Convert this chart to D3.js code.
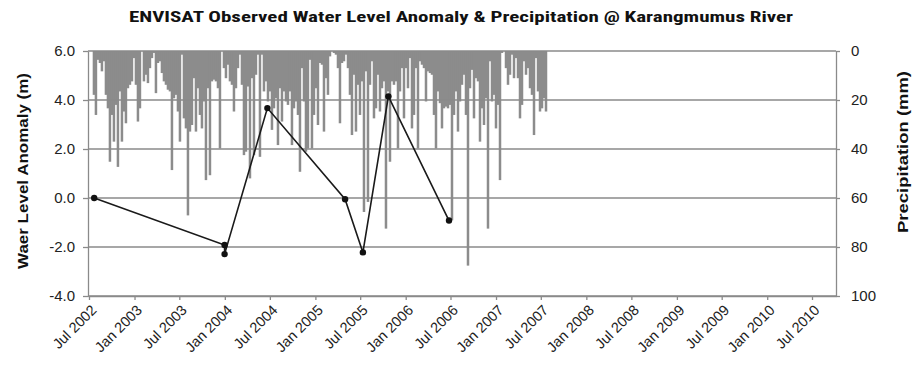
<!DOCTYPE html>
<html>
<head>
<meta charset="utf-8">
<script src="https://cdn.jsdelivr.net/npm/d3@7/dist/d3.min.js"></script>
<style>
  html, body { margin: 0; padding: 0; background: #fff; }
  svg { display: block; }
  text { font-family: "Liberation Sans", Roboto, sans-serif; fill: #222; }
</style>
</head>
<body>
<svg id="chart" width="916" height="367"></svg>
<script>
// ---- data ----
const titleText = "ENVISAT  Observed Water Level Anomaly &  Precipitation @ Karangmumus River";
const leftAxisTitle = "Waer Level Anomaly (m)";
const rightAxisTitle = "Precipitation (mm)";

const xTickLabels = ["Jul 2002", "Jan 2003", "Jul 2003", "Jan 2004", "Jul 2004", "Jan 2005",
  "Jul 2005", "Jan 2006", "Jul 2006", "Jan 2007", "Jul 2007", "Jan 2008", "Jul 2008",
  "Jan 2009", "Jul 2009", "Jan 2010", "Jul 2010"];
const levelTicks = [-4, -2, 0, 2, 4, 6];
const precipTicks = [0, 20, 40, 60, 80, 100];

// ENVISAT altimetry water level anomaly (m)
const levelDates = ["2002-07-22", "2003-12-31", "2003-12-31", "2004-06-21",
  "2005-05-01", "2005-07-12", "2005-10-23", "2006-06-25"];
const levelValues = [0.0, -1.92, -2.29, 3.67, -0.05, -2.22, 4.15, -0.92];

// Precipitation (mm), evenly spaced records from the first to the last date
const precipFirst = "2002-07-21";
const precipLast = "2007-07-22";
const precipMm = [
  17.9, 26.1, 3.6, 4.9, 8.3, 4.2, 17.9, 23.4, 45.2, 26.1, 37.0, 22.0, 47.3, 16.5, 37.0, 24.7,
  29.5, 15.2, 13.8, 12.4, 2.9, 13.8, 28.8, 23.4, 0.1, 12.4, 9.7, 13.1, 7.0, 2.9, 0.8, 17.2,
  4.9, 4.2, 9.0, 12.4, 13.8, 15.8, 16.5, 48.6, 19.3, 17.9, 24.7, 37.0, 1.5, 27.5, 31.6, 67.1,
  32.9, 30.2, 11.1, 32.9, 15.2, 26.1, 31.6, 20.6, 52.7, 15.2, 50.7, 12.4, 11.7, 12.4, 15.2, 39.8,
  0.1, 7.0, 11.1, 5.6, 12.4, 13.8, 24.7, 15.2, 7.0, 1.5, 13.8, 42.5,
  41.1, 14.5, 52.0, 11.1, 42.5, 9.7, 1.5, 43.2, 1.5, 16.5, 12.4, 20.6, 16.5, 32.2, 23.4, 19.3,
  38.4, 15.2, 28.8, 16.5, 20.6, 22.0, 16.5, 38.4, 23.4, 20.6, 26.1, 49.3, 7.0, 20.6, 41.1, 39.8,
  3.6, 39.8, 26.1, 15.2, 30.2, 4.9, 5.6, 32.9, 11.1, 17.9, 2.2, 0.1, 0.8, 1.5, 7.0, 29.5,
  4.9, 4.2, 1.5, 7.0, 17.9, 34.3, 9.7, 32.9, 13.8, 26.1, 12.4, 65.7, 8.3, 61.6, 13.8, 4.2,
  27.5, 23.4, 9.7, 24.7, 15.2, 12.4, 72.5, 16.5, 45.2, 12.4, 13.8, 12.4, 39.8, 16.5, 7.0,
  27.5, 7.0, 15.2, 2.9, 31.6, 26.1, 7.0, 39.8, 4.2, 5.6, 7.0, 20.6, 8.3, 9.0, 9.7, 26.1,
  39.8, 16.5, 21.3, 31.6, 23.4, 22.7, 23.4, 22.0, 69.1, 26.1, 16.5, 32.9, 20.6, 13.8, 9.7, 26.1,
  87.6, 15.2, 7.7, 27.5, 11.1, 12.4, 37.0, 23.4, 30.2, 19.3, 72.5, 4.2, 20.6, 17.9, 31.6, 22.0,
  52.7, 0.8, 0.1, 7.0, 13.8, 9.7, 1.5, 11.1, 2.9, 11.1, 27.5, 22.0, 4.2, 9.7, 7.0, 15.2,
  17.9, 34.3, 2.9, 16.5, 24.7, 23.4, 19.3, 24.7
];

// ---- layout ----
const svg = d3.select("#chart");
const plot = { left: 88, right: 836, top: 51, bottom: 296 };
const gridColor = "#8a8a8a";
const barColor = "#8c8c8c";
const bodyFont = "'Liberation Sans', Roboto, sans-serif";

const parseDay = d3.timeParse("%Y-%m-%d");
const parseMonth = d3.timeParse("%b %Y");

const x = d3.scaleTime()
  .domain([parseDay("2002-06-27"), parseDay("2010-10-06")])
  .range([plot.left, plot.right]);
const yLevel = d3.scaleLinear().domain([-4, 6]).range([plot.bottom, plot.top]);
const yPrecip = d3.scaleLinear().domain([0, 100]).range([plot.top, plot.bottom]);

// precipitation records
const t0 = parseDay(precipFirst).getTime();
const t1 = parseDay(precipLast).getTime();
const stepMs = (t1 - t0) / (precipMm.length - 1);
const precip = precipMm.map((v, i) => ({ date: new Date(t0 + i * stepMs), mm: v }));
const step = x(new Date(t0 + stepMs)) - x(new Date(t0));
const barW = step * 1.25;   // slight overlap so neighbouring columns merge

// ---- title ----
svg.append("text")
  .attr("x", 461).attr("y", 22)
  .attr("text-anchor", "middle")
  .attr("textLength", 664)
  .attr("lengthAdjust", "spacingAndGlyphs")
  .style("font-family", "'Liberation Sans Narrow', 'Roboto Condensed', 'Liberation Sans', Roboto, sans-serif")
  .style("font-weight", "bold")
  .style("font-size", "15px")
  .style("fill", "#111")
  .text(titleText);

// ---- precipitation bars (hanging from the top) ----
svg.append("g")
  .selectAll("rect")
  .data(precip)
  .join("rect")
  .attr("x", d => x(d.date) - barW / 2)
  .attr("y", yPrecip(0))
  .attr("width", barW)
  .attr("height", d => yPrecip(d.mm) - yPrecip(0))
  .attr("fill", barColor);

// ---- gridlines ----
svg.append("g")
  .selectAll("line")
  .data(levelTicks)
  .join("line")
  .attr("x1", plot.left).attr("x2", plot.right)
  .attr("y1", d => yLevel(d)).attr("y2", d => yLevel(d))
  .attr("stroke", gridColor)
  .attr("stroke-width", 1.3);

// ---- axes ----
function styleAxis(g) {
  g.attr("font-family", null);
  g.select(".domain").attr("stroke", gridColor).attr("stroke-width", 1.3);
  g.selectAll(".tick line").attr("stroke", gridColor).attr("stroke-width", 1.3);
  g.selectAll(".tick text")
    .style("font-family", bodyFont)
    .style("font-size", "15px")
    .style("fill", "#222");
}

const leftAxis = svg.append("g")
  .attr("transform", `translate(${plot.left},0)`)
  .call(d3.axisLeft(yLevel).tickValues(levelTicks).tickFormat(d => d.toFixed(1))
    .tickSizeInner(5).tickSizeOuter(0).tickPadding(8));
styleAxis(leftAxis);

const rightAxis = svg.append("g")
  .attr("transform", `translate(${plot.right},0)`)
  .call(d3.axisRight(yPrecip).tickValues(precipTicks).tickFormat(d => String(d))
    .tickSizeInner(4).tickSizeOuter(0).tickPadding(11));
styleAxis(rightAxis);

const bottomAxis = svg.append("g")
  .attr("transform", `translate(0,${plot.bottom})`)
  .call(d3.axisBottom(x).tickValues(xTickLabels.map(parseMonth))
    .tickFormat(d3.timeFormat("%b %Y")).tickSizeInner(4).tickSizeOuter(0));
styleAxis(bottomAxis);
bottomAxis.selectAll(".tick text")
  .style("font-size", "14.5px")
  .attr("text-anchor", "end")
  .attr("dy", null)
  .attr("y", 0)
  .attr("transform", "translate(8,15) rotate(-45)");

// ---- water level line ----
const level = levelDates.map((d, i) => ({ date: parseDay(d), v: levelValues[i] }));
svg.append("path")
  .datum(level)
  .attr("fill", "none")
  .attr("stroke", "#1a1a1a")
  .attr("stroke-width", 1.6)
  .attr("d", d3.line().x(d => x(d.date)).y(d => yLevel(d.v)));
svg.append("g")
  .selectAll("circle")
  .data(level)
  .join("circle")
  .attr("cx", d => x(d.date))
  .attr("cy", d => yLevel(d.v))
  .attr("r", 3.2)
  .attr("fill", "#111");

// ---- axis titles ----
svg.append("text")
  .attr("transform", `translate(28,171) rotate(-90)`)
  .attr("text-anchor", "middle")
  .attr("textLength", 196)
  .attr("lengthAdjust", "spacingAndGlyphs")
  .style("font-family", bodyFont)
  .style("font-weight", "bold")
  .style("font-size", "14.5px")
  .style("fill", "#111")
  .text(leftAxisTitle);

svg.append("text")
  .attr("transform", `translate(908,152) rotate(-90)`)
  .attr("text-anchor", "middle")
  .attr("textLength", 162)
  .attr("lengthAdjust", "spacingAndGlyphs")
  .style("font-family", bodyFont)
  .style("font-weight", "bold")
  .style("font-size", "14.5px")
  .style("fill", "#111")
  .text(rightAxisTitle);
</script>
</body>
</html>
